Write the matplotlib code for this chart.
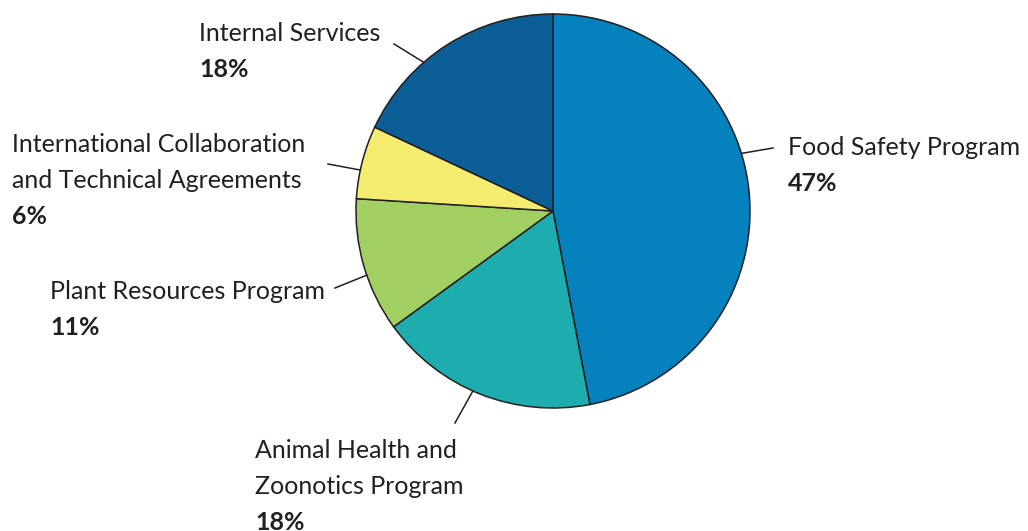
import matplotlib
matplotlib.use("Agg")
import matplotlib.pyplot as plt
import numpy as np

categories = ["Food Safety Program", "Animal Health and\nZoonotics Program",
              "Plant Resources Program", "International Collaboration\nand Technical Agreements",
              "Internal Services"]
values = [47, 18, 11, 6, 18]
pct_labels = ["47%", "18%", "11%", "6%", "18%"]
colors = ["#0582BD", "#1EADAE", "#A2CF62", "#F4EC6E", "#0B5E96"]

W, H = 1028, 531
fig = plt.figure(figsize=(W / 100, H / 100), dpi=100)
ax = fig.add_axes([0, 0, 1, 1])

cx, cy, R = 553, H - 211, 197
ax.pie(values, colors=colors, startangle=90, counterclock=False, center=(cx, cy), radius=R,
       wedgeprops=dict(edgecolor="#231F20", linewidth=1.1), frame=True)
ax.set_xlim(0, W)
ax.set_ylim(0, H)
ax.set_aspect("equal")
ax.axis("off")

# leader line styling: angle on the rim (deg) and outer end (pixels from top-left)
leader_angle = [17, -114, 199, 168, 131]
leader_end = [(773, 148), (455, 423), (335, 288), (328, 164), (394, 44)]
# text anchors: left x, first baseline y (pixels from top)
text_pos = [(788, 155), (255, 458), (50, 299), (12, 152), (199, 41)]
line_gap = 36

font = "Lato"
fs = 18
ink = "#231F20"
for i, cat in enumerate(categories):
    a = np.deg2rad(leader_angle[i])
    x0, y0 = cx + R * np.cos(a), cy + R * np.sin(a)
    ex, ey = leader_end[i]
    ax.plot([x0, ex], [y0, H - ey], color=ink, lw=1.1)
    tx, ty = text_pos[i]
    lines = cat.split("\n")
    for j, ln in enumerate(lines):
        ax.text(tx, H - (ty + j * line_gap), ln, ha="left", va="baseline", fontsize=fs,
                family=font, color=ink)
    ax.text(tx, H - (ty + len(lines) * line_gap), pct_labels[i], ha="left", va="baseline",
            fontsize=fs, family=font, fontweight="bold", color=ink)

fig.savefig("out.png", dpi=100)
